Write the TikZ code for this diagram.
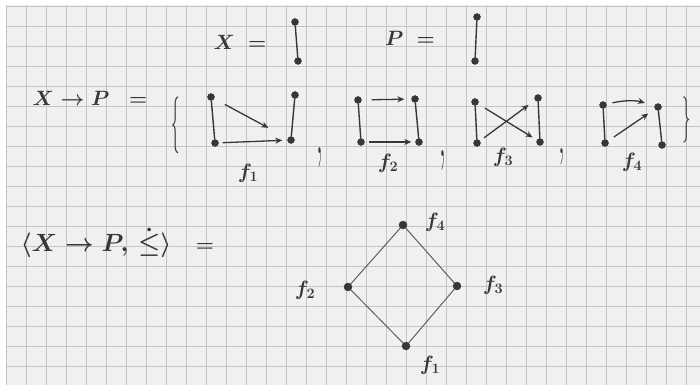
\documentclass[tikz,border=0pt]{standalone}
\usetikzlibrary{arrows.meta}
\usepackage{graphicx}
\definecolor{pen}{RGB}{55,55,55}
\definecolor{paper}{RGB}{240,240,240}
\definecolor{gridc}{RGB}{196,196,196}
\begin{document}
\begin{tikzpicture}[x=1pt,y=-1pt,
  dot/.style={circle,fill=pen,draw=pen,inner sep=0pt,minimum size=7pt},
  bar/.style={draw=pen,line width=1.4pt},
  arr/.style={draw=pen,line width=1.3pt,-{Stealth[length=7pt,width=6pt]}},
  hasse/.style={draw=pen!80,line width=1pt},
  txt/.style={text=pen,inner sep=0pt,font=\fontsize{21}{24}\selectfont\boldmath},
  big/.style={text=pen,inner sep=0pt,font=\fontsize{23}{26}\selectfont\boldmath},
  lab/.style={text=pen,inner sep=0pt,font=\fontsize{20}{22}\selectfont\boldmath},
  comma/.style={text=pen,inner sep=0pt,font=\fontsize{21}{24}\selectfont}]
\useasboundingbox (0,0) rectangle (700,385);
\fill[white] (0,0) rectangle (700,385);
\fill[paper] (6,5) rectangle (700,385);
\foreach \k in {0,...,34} \draw[gridc,line width=0.9pt] (6+20*\k,5) -- (6+20*\k,385);
\foreach \k in {0,...,18} \draw[gridc,line width=0.9pt] (6,6+20*\k) -- (700,6+20*\k);

% X and P
\node[txt] (tX) at (240,42) {$X\;=$};
\node[dot] (xa) at (295,22) {};
\node[dot] (xb) at (298,61) {};
\draw[bar] (xa) -- (xb);
\node[txt] (tP) at (410,38) {$P\;=$};
\node[dot] (pa) at (477,17) {};
\node[dot] (pb) at (475,61) {};
\draw[bar] (pa) -- (pb);

% X -> P = { ... }
\node[txt] (tXP) at (90,98) {$X \to P \;\;=$};
\node[txt] (lbr) at (176,125) {\scalebox{0.8}[2.7]{\{}};
\node[txt] (rbr) at (687,120) {\scalebox{0.8}[2.2]{\}}};

% f1
\node[dot] (a1t) at (211,97) {};
\node[dot] (a1b) at (215,143) {};
\node[dot] (b1t) at (295,95) {};
\node[dot] (b1b) at (291,140) {};
\draw[bar] (a1t) -- (a1b);
\draw[bar] (b1t) -- (b1b);
\draw[arr,shorten <=12pt,shorten >=22pt] (a1t) -- (b1b);
\draw[arr,shorten <=4pt,shorten >=5pt] (a1b) -- (b1b);
\node[lab] (l1) at (248,173) {$f_1$};
\node[comma] (c1) at (320,157) {\scalebox{1.3}[3.4]{,}};

% f2
\node[dot] (a2t) at (358,100) {};
\node[dot] (a2b) at (361,142) {};
\node[dot] (b2t) at (415,99) {};
\node[dot] (b2b) at (419,142) {};
\draw[bar] (a2t) -- (a2b);
\draw[bar] (b2t) -- (b2b);
\draw[arr,shorten <=10pt,shorten >=7pt] (a2t) -- (b2t);
\draw[arr,shorten <=4pt,shorten >=4pt] (a2b) -- (b2b);
\node[lab] (l2) at (388,163) {$f_2$};
\node[comma] (c2) at (443,160) {\scalebox{1.3}[3.4]{,}};

% f3
\node[dot] (a3t) at (475,102) {};
\node[dot] (a3b) at (477,143) {};
\node[dot] (b3t) at (538,98) {};
\node[dot] (b3b) at (540,142) {};
\draw[bar] (a3t) -- (a3b);
\draw[bar] (b3t) -- (b3b);
\draw[arr,shorten <=5pt,shorten >=8pt] (a3b) -- (b3t);
\draw[arr,shorten <=8pt,shorten >=5pt] (a3t) -- (b3b);
\node[lab] (l3) at (503,157) {$f_3$};
\node[comma] (c3) at (562,157) {\scalebox{1.3}[2.8]{,}};

% f4
\node[dot] (a4t) at (603,105) {};
\node[dot] (a4b) at (605,143) {};
\node[dot] (b4t) at (658,107) {};
\node[dot] (b4b) at (662,145) {};
\draw[bar] (a4t) -- (a4b);
\draw[bar] (b4t) -- (b4b);
\draw[arr,shorten <=6pt,shorten >=10pt,bend left=15] (a4t) to (b4t);
\draw[arr,shorten <=7pt,shorten >=8pt] (a4b) -- (b4t);
\node[lab] (l4) at (632,162) {$f_4$};

% ordered set
\node[big] (tOrd) at (96,243) {$\langle X \to P,\, \dot{\leq}\rangle$};
\node[txt] (tEq) at (205,247) {$=$};
\node[dot,minimum size=8pt] (h4) at (403,225) {};
\node[dot,minimum size=8pt] (h2) at (348,287) {};
\node[dot,minimum size=8pt] (h3) at (457,286) {};
\node[dot,minimum size=8pt] (h1) at (406,346) {};
\draw[hasse] (h1) -- (h2) -- (h4) -- (h3) -- (h1);
\node[lab] (hl4) at (435,222) {$f_4$};
\node[lab] (hl2) at (305,290) {$f_2$};
\node[lab] (hl3) at (493,285) {$f_3$};
\node[lab] (hl1) at (430,365) {$f_1$};
\end{tikzpicture}
\end{document}
